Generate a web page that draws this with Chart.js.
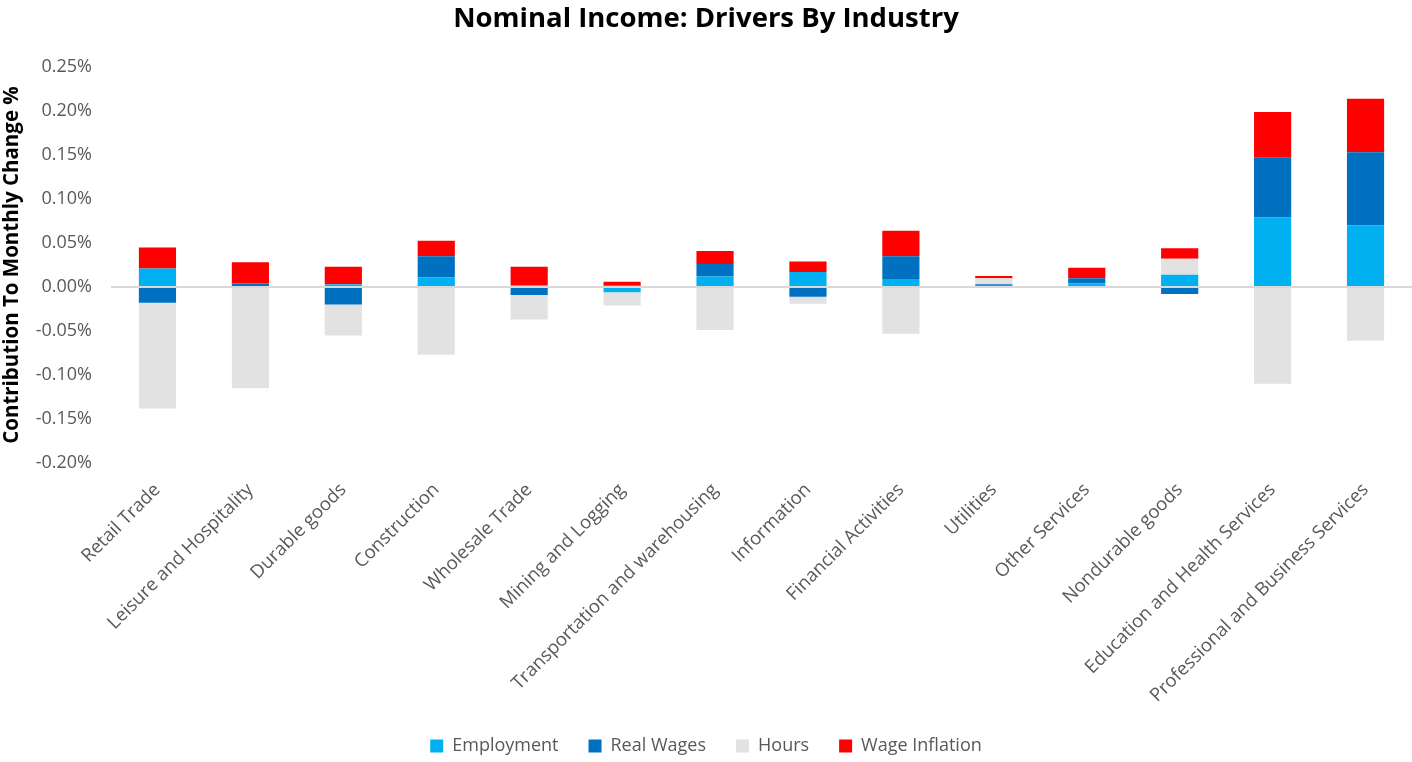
<!DOCTYPE html>
<html>
<head>
<meta charset="utf-8">
<script src="https://cdn.jsdelivr.net/npm/chart.js@4.4.0/dist/chart.umd.min.js"></script>
<style>
  html, body { margin: 0; padding: 0; background: #fff; }
  #wrap { width: 1412px; height: 762px; }
</style>
</head>
<body>
<div id="wrap"><canvas id="graph" width="1412" height="762"></canvas></div>
<script>
// カテゴリ
var categories = ['Retail Trade', 'Leisure and Hospitality', 'Durable goods', 'Construction', 'Wholesale Trade',
  'Mining and Logging', 'Transportation and warehousing', 'Information', 'Financial Activities', 'Utilities',
  'Other Services', 'Nondurable goods', 'Education and Health Services', 'Professional and Business Services'];
// 各系列 (%)
var employment    = [0.021, 0.001, 0.003, 0.011, 0.002, -0.006, 0.012, 0.017, 0.009, 0.0015, 0.004, 0.014, 0.079, 0.070];
var realWages     = [-0.018, 0.003, -0.020, 0.024, -0.009, 0.002, 0.014, -0.011, 0.026, 0.0015, 0.006, -0.008, 0.068, 0.083];
var hours         = [-0.120, -0.115, -0.035, -0.077, -0.028, -0.015, -0.049, -0.008, -0.053, 0.007, -0.001, 0.018, -0.110, -0.061];
var wageInflation = [0.024, 0.024, 0.020, 0.0175, 0.021, 0.004, 0.015, 0.012, 0.029, 0.0025, 0.012, 0.012, 0.052, 0.061];
// 目盛り
var yMin = -0.20, yMax = 0.25, yStep = 0.05;

var fontName = "'Open Sans', sans-serif";
var ctx = document.getElementById('graph').getContext('2d');

function ds(label, data, color) {
  return { label: label, data: data, backgroundColor: color, borderWidth: 0,
           barPercentage: 0.8, categoryPercentage: 0.5, stack: 's' };
}

var myChart = new Chart(ctx, {
  type: 'bar',
  data: {
    labels: categories,
    datasets: [
      ds('Employment', employment, '#00b0f0'),
      ds('Real Wages', realWages, '#0070c0'),
      ds('Hours', hours, '#e2e2e2'),
      ds('Wage Inflation', wageInflation, '#ff0000')
    ]
  },
  options: {
    responsive: false,
    animation: false,
    layout: { padding: { left: 0, right: 0, top: 3, bottom: -3 } },
    plugins: {
      title: {
        display: true,
        text: 'Nominal Income: Drivers By Industry',
        color: '#000',
        font: { family: fontName, size: 27.5, weight: 'bold' },
        padding: { top: 0, bottom: 31 }
      },
      legend: {
        position: 'bottom',
        labels: {
          color: '#595959',
          boxWidth: 13, boxHeight: 13,
          padding: 30,
          font: { family: fontName, size: 18 }
        }
      },
      tooltip: { enabled: false }
    },
    scales: {
      x: {
        stacked: true,
        grid: { display: false },
        border: { display: false },
        afterFit: function(s) { s.height = 244; },
        ticks: {
          color: '#595959',
          font: { family: fontName, size: 18.5 },
          minRotation: 45, maxRotation: 45,
          autoSkip: false,
          padding: 8
        }
      },
      y: {
        stacked: true,
        min: yMin, max: yMax,
        border: { display: false },
        afterFit: function(s) { s.width = 111; },
        grid: {
          drawTicks: false,
          lineWidth: 2,
          color: function(c) { return Math.abs(c.tick.value) < 1e-9 ? '#d9d9d9' : 'rgba(0,0,0,0)'; }
        },
        ticks: {
          stepSize: yStep,
          color: '#595959',
          padding: 19,
          font: { family: fontName, size: 18 },
          callback: function(v) { return (Math.abs(v) < 1e-9 ? 0 : v).toFixed(2) + '%'; }
        },
        title: {
          display: true,
          text: 'Contribution To Monthly Change %',
          color: '#000',
          font: { family: fontName, size: 20.5, weight: 'bold' },
          padding: { top: 0, bottom: 0 }
        }
      }
    }
  }
});
</script>
</body>
</html>
